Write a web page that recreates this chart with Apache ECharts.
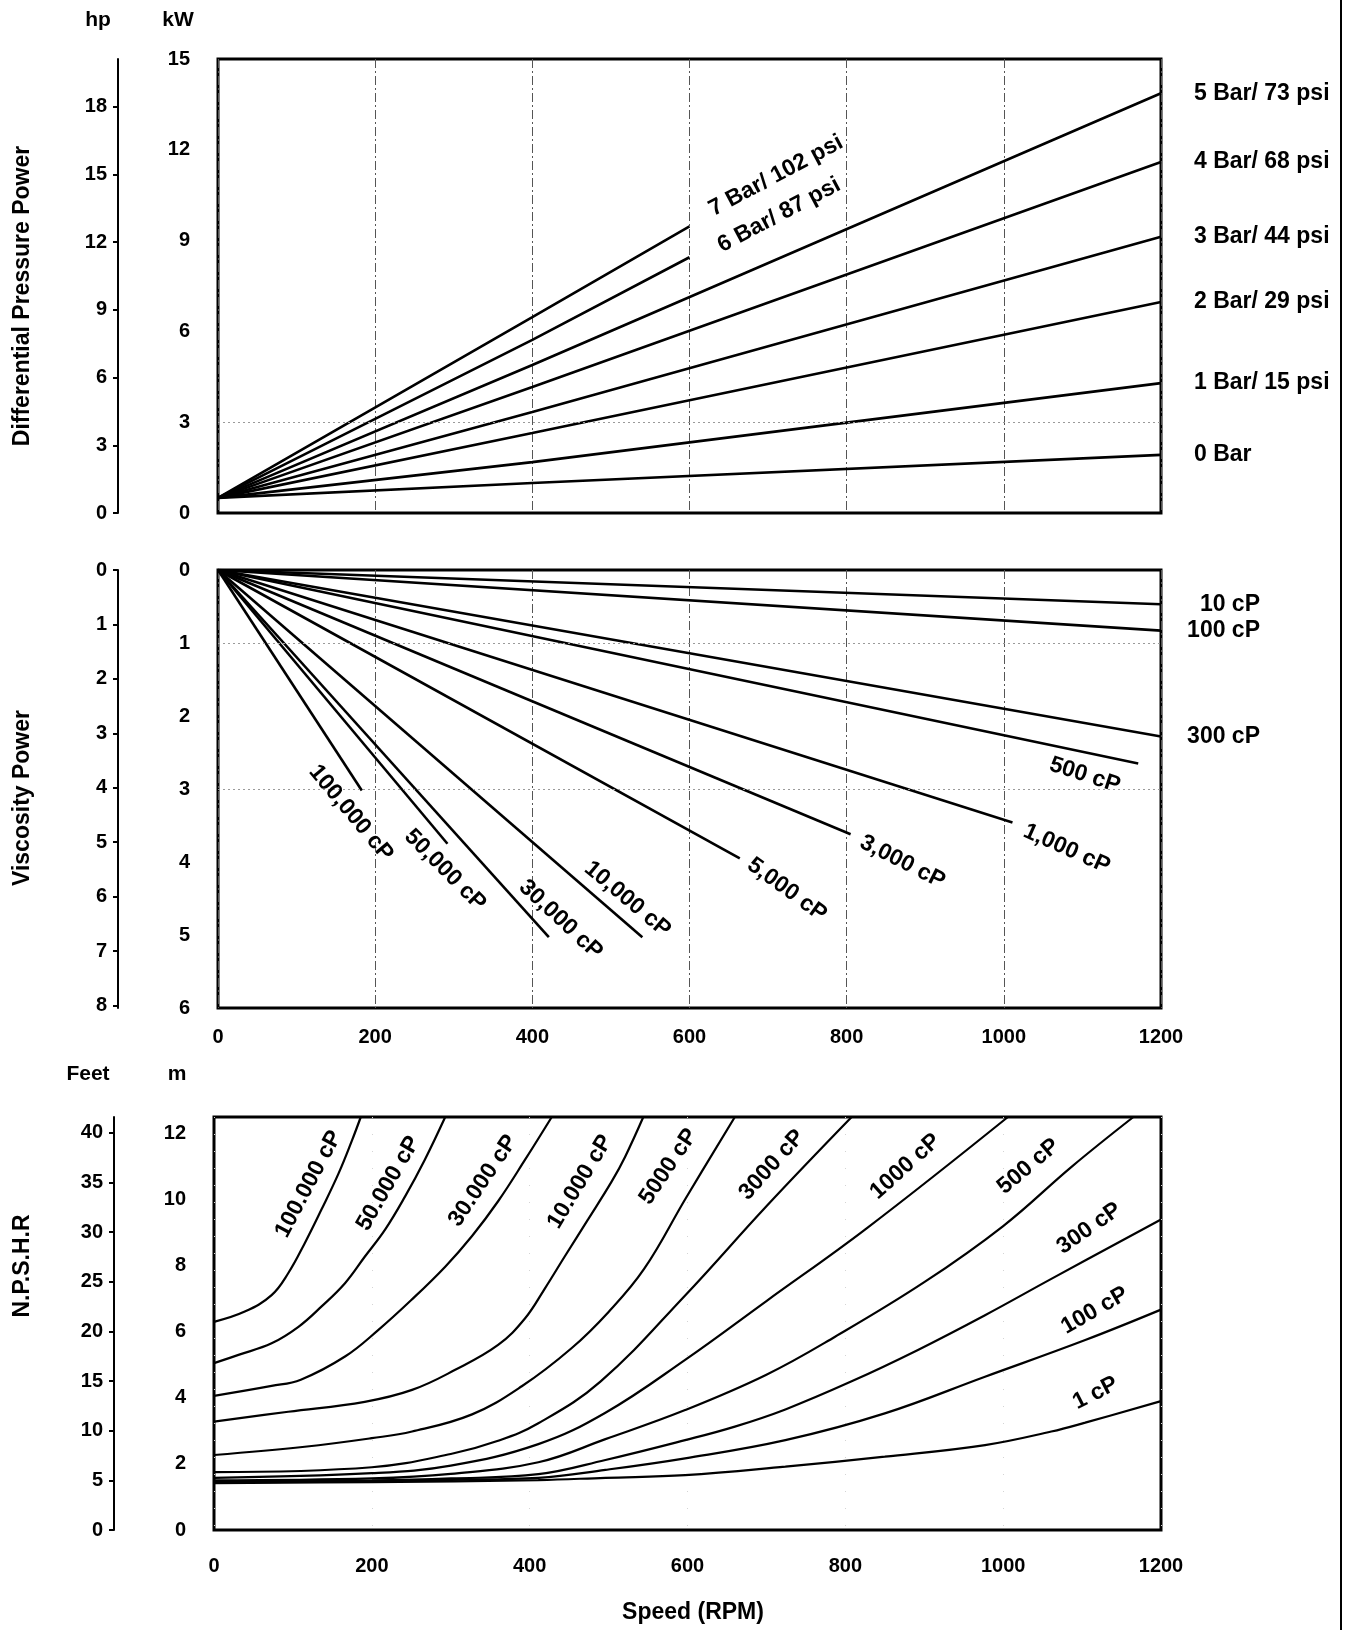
<!DOCTYPE html>
<html><head><meta charset="utf-8">
<script src="https://cdn.jsdelivr.net/npm/echarts@6/dist/echarts.min.js"></script>
<style>html,body{margin:0;padding:0;background:#fff}#c{width:1350px;height:1630px}</style>
</head><body><div id="c"></div>
<script>
// ---------------- DATA ----------------
const kwPerHp = 0.7457;
const mMax = 12.5;        // NPSHR axis top (m)
const ftMax = 41.6;       // NPSHR feet scale top as printed on the chart
const rpmTicks = [0, 200, 400, 600, 800, 1000, 1200];

// Differential pressure power (rpm, kW)
const dpNames = ['7 Bar/ 102 psi', '6 Bar/ 87 psi', '5 Bar/ 73 psi', '4 Bar/ 68 psi', '3 Bar/ 44 psi', '2 Bar/ 29 psi', '1 Bar/ 15 psi', '0 Bar'];
const dp7 = [[0, 0.5], [400, 6.47], [600, 9.47]];
const dp6 = [[0, 0.5], [400, 5.72], [600, 8.45]];
const dp5 = [[0, 0.5], [400, 4.89], [1200, 13.87]];
const dp4 = [[0, 0.5], [400, 4.16], [1200, 11.6]];
const dp3 = [[0, 0.5], [400, 3.34], [1200, 9.13]];
const dp2 = [[0, 0.5], [400, 2.64], [1200, 6.97]];
const dp1 = [[0, 0.5], [400, 1.68], [1200, 4.29]];
const dp0 = [[0, 0.5], [400, 0.99], [1200, 1.92]];
const dpSeries = [dp7, dp6, dp5, dp4, dp3, dp2, dp1, dp0];

// Viscosity power (straight lines from origin), end points (rpm, kW)
const visNames = ['10 cP', '100 cP', '300 cP', '500 cP', '1,000 cP', '3,000 cP', '5,000 cP', '10,000 cP', '30,000 cP', '50,000 cP', '100,000 cP'];
const visEndRpm = [1200, 1200, 1200, 1171, 1011, 805, 664, 540, 421, 292, 183];
const visEndKw = [0.47, 0.83, 2.28, 2.65, 3.46, 3.62, 3.95, 5.03, 5.03, 3.75, 3.02];

// NPSHR (rpm, m)
const npshNames = ['100.000 cP', '50.000 cP', '30.000 cP', '10.000 cP', '5000 cP', '3000 cP', '1000 cP', '500 cP', '300 cP', '100 cP', '1 cP'];
const n100k = [[0, 6.30], [39, 6.61], [73, 7.11], [94, 7.77], [115, 8.68], [136, 9.69], [158, 10.80], [175, 11.80], [186, 12.5]];
const n50k = [[0, 5.05], [31, 5.30], [73, 5.65], [107, 6.15], [136, 6.76], [166, 7.47], [191, 8.27], [217, 9.1], [242, 10.09], [267, 11.20], [293, 12.5]];
const n30k = [[0, 4.06], [73, 4.36], [110, 4.55], [166, 5.25], [208, 6.05], [250, 6.96], [293, 7.97], [327, 8.9], [360, 9.95], [394, 11.20], [428, 12.5]];
const n10k = [[0, 3.28], [94, 3.58], [191, 3.88], [251, 4.24], [305, 4.84], [360, 5.6], [394, 6.4], [419, 7.3], [445, 8.3], [474, 9.4], [504, 10.55], [521, 11.3], [544, 12.5]];
const n5000 = [[0, 2.27], [115, 2.52], [200, 2.78], [251, 2.98], [327, 3.5], [390, 4.35], [453, 5.5], [500, 6.6], [545, 7.9], [598, 10.05], [660, 12.5]];
const n3000 = [[0, 1.75], [200, 1.90], [300, 2.3], [360, 2.7], [411, 3.23], [490, 4.5], [597, 7.1], [700, 9.8], [808, 12.5]];
const n1000 = [[0, 1.58], [200, 1.72], [300, 1.95], [411, 2.6], [496, 3.55], [597, 5.15], [700, 6.93], [827, 9.13], [1006, 12.5]];
const n500 = [[0, 1.5], [200, 1.56], [300, 1.7], [411, 2.05], [496, 2.75], [597, 3.63], [700, 4.7], [787, 5.85], [900, 7.5], [1000, 9.2], [1087, 11.0], [1165, 12.5]];
const n300 = [[0, 1.46], [200, 1.5], [300, 1.56], [411, 1.69], [496, 2.12], [597, 2.72], [660, 3.13], [724, 3.65], [808, 4.5], [892, 5.45], [977, 6.5], [1061, 7.6], [1200, 9.4]];
const n100 = [[0, 1.44], [200, 1.48], [300, 1.52], [411, 1.58], [496, 1.82], [597, 2.17], [724, 2.72], [850, 3.53], [977, 4.64], [1104, 5.75], [1200, 6.67]];
const n1 = [[0, 1.42], [200, 1.45], [411, 1.51], [496, 1.58], [597, 1.66], [724, 1.92], [850, 2.22], [977, 2.57], [1061, 2.98], [1104, 3.25], [1200, 3.9]];
const npshSeries = [n100k, n50k, n30k, n10k, n5000, n3000, n1000, n500, n300, n100, n1];

// axis tick labels
const kwTopTicks = [0, 3, 6, 9, 12, 15];
const hpTopTicks = [0, 3, 6, 9, 12, 15, 18];
const kwMidTicks = [0, 1, 2, 3, 4, 5, 6];
const hpMidTicks = [0, 1, 2, 3, 4, 5, 6, 7, 8];
const mTicks = [0, 2, 4, 6, 8, 10, 12];
const ftTicks = [0, 5, 10, 15, 20, 25, 30, 35, 40];

// ---------------- LABEL PLACEMENT (anchors in data coords) ----------------
const dpRotLabels = [
  { i: 0, at: [710, 11.14], rot: 28 },
  { i: 1, at: [714, 9.84], rot: 28 }
];
const visRotLabels = [
  { i: 10, at: [169, 3.33], rot: -50 },
  { i: 9, at: [289, 4.11], rot: -45 },
  { i: 8, at: [436, 4.79], rot: -43 },
  { i: 7, at: [521, 4.51], rot: -40 },
  { i: 6, at: [724, 4.38], rot: -36 },
  { i: 5, at: [871, 4.0], rot: -27 },
  { i: 4, at: [1080, 3.82], rot: -24 },
  { i: 3, at: [1103, 2.81], rot: -18 }
];
const npshRotLabels = [
  { i: 0, at: [120, 10.47], rot: 62 },
  { i: 1, at: [221, 10.49], rot: 60 },
  { i: 2, at: [341, 10.57], rot: 56 },
  { i: 3, at: [464, 10.54], rot: 59 },
  { i: 4, at: [576, 11.0], rot: 56 },
  { i: 5, at: [707, 11.05], rot: 48 },
  { i: 6, at: [876, 11.0], rot: 42 },
  { i: 7, at: [1032, 11.0], rot: 40 },
  { i: 8, at: [1109, 9.13], rot: 35 },
  { i: 9, at: [1116, 6.64], rot: 30 },
  { i: 10, at: [1117, 4.14], rot: 27 }
];

// ---------------- CHART ----------------
const FONT = '"Liberation Sans", Arial, Helvetica, sans-serif';
const chart = echarts.init(document.getElementById('c'), null, { renderer: 'canvas' });

const tickLabel = { color: '#000', fontFamily: FONT, fontWeight: 'bold', fontSize: 20, formatter: v => String(v) };
const gridStyle = { show: true, borderColor: '#000', borderWidth: 3, backgroundColor: 'transparent' };
const vGrid = { show: true, lineStyle: { color: '#555', width: 1, type: [9, 3, 2, 3] } };

function kwAxis(g, max, interval, inverse, ticks) {
  return {
    type: 'value', gridIndex: g, position: 'left', min: 0, max: max, interval: interval, inverse: inverse,
    axisLine: { show: false }, axisTick: { show: false }, splitLine: { show: false },
    axisLabel: Object.assign({ margin: 28, customValues: ticks }, tickLabel)
  };
}
function secAxis(g, max, inverse, ticks) {
  return {
    type: 'value', gridIndex: g, position: 'left', offset: 100, min: 0, max: max, inverse: inverse,
    axisLine: { show: true, lineStyle: { color: '#000', width: 2 } },
    axisTick: { show: true, inside: false, length: 5, customValues: ticks, lineStyle: { color: '#000', width: 2 } },
    splitLine: { show: false },
    axisLabel: Object.assign({ margin: 11, customValues: ticks }, tickLabel)
  };
}

const series = [];
dpSeries.forEach((d, k) => {
  series.push({
    type: 'line', name: dpNames[k], xAxisIndex: 0, yAxisIndex: 0, data: d, symbol: 'none',
    lineStyle: { color: '#000', width: 2.6 }, silent: true, z: 3,
    markLine: k === 0 ? { silent: true, symbol: 'none', label: { show: false },
      lineStyle: { color: '#9a9a9a', width: 1, type: [2, 3] }, data: [{ yAxis: 3 }] } : undefined
  });
});
visNames.forEach((n, k) => {
  series.push({
    type: 'line', name: n, xAxisIndex: 1, yAxisIndex: 2, data: [[0, 0], [visEndRpm[k], visEndKw[k]]], symbol: 'none',
    lineStyle: { color: '#000', width: 2.6 }, silent: true, z: 3,
    markLine: k === 0 ? { silent: true, symbol: 'none', label: { show: false },
      lineStyle: { color: '#9a9a9a', width: 1, type: [2, 3] }, data: [{ yAxis: 1 }, { yAxis: 3 }] } : undefined
  });
});
npshSeries.forEach((d, k) => {
  series.push({
    type: 'line', name: npshNames[k], xAxisIndex: 2, yAxisIndex: 4, data: d, symbol: 'none',
    smooth: 0.4,
    lineStyle: { color: '#000', width: 2.2 }, silent: true, z: 3
  });
});

const option = {
  animation: false,
  backgroundColor: '#fff',
  grid: [
    Object.assign({ left: 218, top: 59, width: 943, height: 454 }, gridStyle),
    Object.assign({ left: 218, top: 570, width: 943, height: 438 }, gridStyle),
    Object.assign({ left: 214, top: 1117, width: 947, height: 413 }, gridStyle)
  ],
  xAxis: [
    { type: 'value', gridIndex: 0, min: 0, max: 1200, interval: 200, axisLine: { show: false }, axisTick: { show: false },
      axisLabel: { show: false }, splitLine: vGrid },
    { type: 'value', gridIndex: 1, min: 0, max: 1200, interval: 200, axisLine: { show: false }, axisTick: { show: false },
      axisLabel: Object.assign({ margin: 19, customValues: rpmTicks }, tickLabel), splitLine: vGrid },
    { type: 'value', gridIndex: 2, min: 0, max: 1200, interval: 200, axisLine: { show: false }, axisTick: { show: false },
      axisLabel: Object.assign({ margin: 26, customValues: rpmTicks }, tickLabel),
      splitLine: { show: true, lineStyle: { color: '#d4d4d4', width: 1, type: [1, 16] } } }
  ],
  yAxis: [
    kwAxis(0, 15, 3, false, kwTopTicks),
    secAxis(0, 15 / kwPerHp, false, hpTopTicks),
    kwAxis(1, 6, 1, true, kwMidTicks),
    secAxis(1, 6 / kwPerHp, true, hpMidTicks),
    kwAxis(2, mMax, 2, false, mTicks),
    secAxis(2, ftMax, false, ftTicks)
  ],
  series: series
};
chart.setOption(option);

// ---------------- TEXT ANNOTATIONS ----------------
function txt(x, y, text, opt) {
  opt = opt || {};
  return {
    type: 'text', x: x, y: y, rotation: (opt.rot || 0) * Math.PI / 180, silent: true, z: 100,
    style: {
      text: text, fill: '#000', fontFamily: FONT, fontWeight: 'bold', fontSize: opt.size || 23,
      align: opt.align || 'center', verticalAlign: 'middle',
      textAlign: opt.align || 'center', textVerticalAlign: 'middle'
    }
  };
}
const px = (xi, yi, p) => chart.convertToPixel({ xAxisIndex: xi, yAxisIndex: yi }, p);

const g = [];
// unit / axis titles
g.push(txt(98, 20, 'hp', { size: 21 }));
g.push(txt(178, 20, 'kW', { size: 21 }));
g.push(txt(88, 1074, 'Feet', { size: 21 }));
g.push(txt(177, 1074, 'm', { size: 21 }));
g.push(txt(23, 296, 'Differential Pressure Power', { rot: 90 }));
g.push(txt(23, 798, 'Viscosity Power', { rot: 90 }));
g.push(txt(23, 1266, 'N.P.S.H.R', { rot: 90 }));
g.push(txt(693, 1613, 'Speed (RPM)'));

// right-hand labels of the pressure lines (5 Bar .. 0 Bar)
for (let k = 2; k < dpSeries.length; k++) {
  const d = dpSeries[k];
  const p = px(0, 0, d[d.length - 1]);
  g.push(txt(p[0] + 33, p[1], dpNames[k], { align: 'left' }));
}
dpRotLabels.forEach(l => { const p = px(0, 0, l.at); g.push(txt(p[0], p[1], dpNames[l.i], { rot: l.rot })); });

// right-hand labels of viscosity lines (10, 100, 300 cP)
for (let k = 0; k < 3; k++) {
  const p = px(1, 2, [visEndRpm[k], visEndKw[k]]);
  g.push(txt(p[0] + 99, p[1], visNames[k], { align: 'right' }));
}
visRotLabels.forEach(l => { const p = px(1, 2, l.at); g.push(txt(p[0], p[1], visNames[l.i], { rot: l.rot })); });
npshRotLabels.forEach(l => { const p = px(2, 4, l.at); g.push(txt(p[0], p[1], npshNames[l.i], { rot: l.rot })); });

// page frame line on the right
g.push({ type: 'line', silent: true, z: 100, shape: { x1: 1341, y1: 0, x2: 1341, y2: 1630 }, style: { stroke: '#000', lineWidth: 2 } });

chart.setOption({ graphic: g });
</script></body></html>
